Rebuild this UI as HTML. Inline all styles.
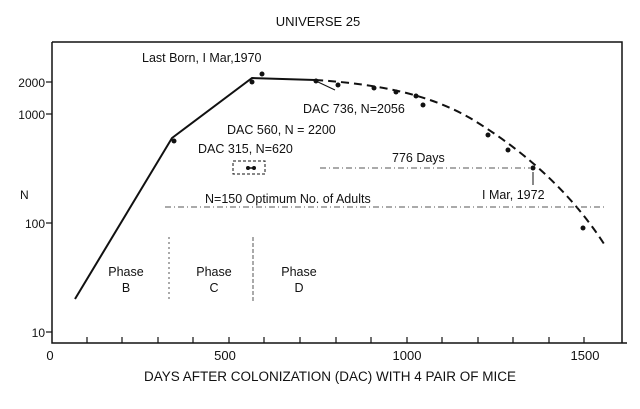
<!DOCTYPE html>
<html><head><meta charset="utf-8"><style>
html,body{margin:0;padding:0;background:#fff;}
svg{display:block;}
text{font-family:"Liberation Sans",sans-serif;fill:#111;}
</style></head><body>
<svg width="640" height="409" viewBox="0 0 640 409" xmlns="http://www.w3.org/2000/svg">
<rect width="640" height="409" fill="#fff"/>
<text x="318" y="26" font-size="13" text-anchor="middle">UNIVERSE 25</text>
<path d="M52,42 L622,42 L622,343 M52,42 L52,343 L627,343" fill="none" stroke="#111" stroke-width="1.5"/>
<g stroke="#111" stroke-width="1.2">
<line x1="87" y1="343" x2="87" y2="337"/><line x1="122" y1="343" x2="122" y2="337"/><line x1="158" y1="343" x2="158" y2="337"/>
<line x1="193" y1="343" x2="193" y2="337"/><line x1="229" y1="343" x2="229" y2="337"/><line x1="264" y1="343" x2="264" y2="337"/>
<line x1="300" y1="343" x2="300" y2="337"/><line x1="336" y1="343" x2="336" y2="337"/><line x1="371" y1="343" x2="371" y2="337"/>
<line x1="407" y1="343" x2="407" y2="337"/><line x1="442" y1="343" x2="442" y2="337"/><line x1="478" y1="343" x2="478" y2="337"/>
<line x1="513" y1="343" x2="513" y2="337"/><line x1="549" y1="343" x2="549" y2="337"/><line x1="584" y1="343" x2="584" y2="337"/>
<line x1="46" y1="332" x2="52" y2="332"/><line x1="46" y1="223" x2="52" y2="223"/><line x1="46" y1="114" x2="52" y2="114"/><line x1="46" y1="82" x2="52" y2="82"/>
</g>
<g font-size="13">
<text x="50" y="360" text-anchor="middle">0</text>
<text x="225" y="360" text-anchor="middle">500</text>
<text x="407" y="360" text-anchor="middle">1000</text>
<text x="585" y="360" text-anchor="middle">1500</text>
<text x="45" y="337" text-anchor="end" font-size="12">10</text>
<text x="45" y="228" text-anchor="end" font-size="12">100</text>
<text x="45" y="119" text-anchor="end" font-size="12">1000</text>
<text x="45" y="87" text-anchor="end" font-size="12">2000</text>
<text x="20" y="199" font-size="12">N</text>
<text x="330" y="381" text-anchor="middle" font-size="13.5">DAYS AFTER COLONIZATION (DAC) WITH 4 PAIR OF MICE</text>
</g>
<polyline points="75,299 172,138 252,78 315,80" fill="none" stroke="#111" stroke-width="2"/>
<path d="M315,80 C380,84 430,95 470,118 C520,148 570,190 606,247" fill="none" stroke="#111" stroke-width="2" stroke-dasharray="8,5"/>
<g fill="#111">
<circle cx="174" cy="141" r="2.5"/><circle cx="252" cy="82" r="2.5"/><circle cx="262" cy="74" r="2.5"/>
<circle cx="316" cy="81" r="2.5"/><circle cx="338" cy="85" r="2.5"/><circle cx="374" cy="88" r="2.5"/>
<circle cx="396" cy="92" r="2.5"/><circle cx="416" cy="96" r="2.5"/><circle cx="423" cy="105" r="2.5"/>
<circle cx="488" cy="135" r="2.5"/><circle cx="508" cy="150" r="2.5"/><circle cx="533" cy="168" r="2.5"/>
<circle cx="583" cy="228" r="2.5"/><circle cx="248" cy="168" r="2"/><circle cx="254" cy="168" r="2"/>
</g>
<line x1="248" y1="168" x2="254" y2="168" stroke="#111" stroke-width="1.5"/>
<rect x="233" y="161" width="32" height="13" fill="none" stroke="#111" stroke-width="1" stroke-dasharray="3,2"/>
<line x1="335" y1="90" x2="318" y2="82" stroke="#111" stroke-width="1"/>
<line x1="533" y1="185" x2="533" y2="172" stroke="#111" stroke-width="1"/>
<line x1="320" y1="168" x2="530" y2="168" stroke="#555" stroke-width="1" stroke-dasharray="6,3,1,3"/>
<line x1="165" y1="207" x2="607" y2="207" stroke="#555" stroke-width="1" stroke-dasharray="6,3,1,3"/>
<line x1="169" y1="237" x2="169" y2="301" stroke="#555" stroke-width="1" stroke-dasharray="2,3"/>
<line x1="253" y1="237" x2="253" y2="301" stroke="#555" stroke-width="1" stroke-dasharray="4,2"/>
<g font-size="12.5">
<text x="142" y="62">Last Born, I Mar,1970</text>
<text x="303" y="113">DAC 736, N=2056</text>
<text x="227" y="134">DAC 560, N = 2200</text>
<text x="198" y="153">DAC 315, N=620</text>
<text x="392" y="162">776 Days</text>
<text x="482" y="199">I Mar, 1972</text>
<text x="205" y="203">N=150  Optimum No. of Adults</text>
<text x="126" y="276" text-anchor="middle">Phase</text><text x="126" y="292" text-anchor="middle">B</text>
<text x="214" y="276" text-anchor="middle">Phase</text><text x="214" y="292" text-anchor="middle">C</text>
<text x="299" y="276" text-anchor="middle">Phase</text><text x="299" y="292" text-anchor="middle">D</text>
</g>
</svg>
</body></html>
